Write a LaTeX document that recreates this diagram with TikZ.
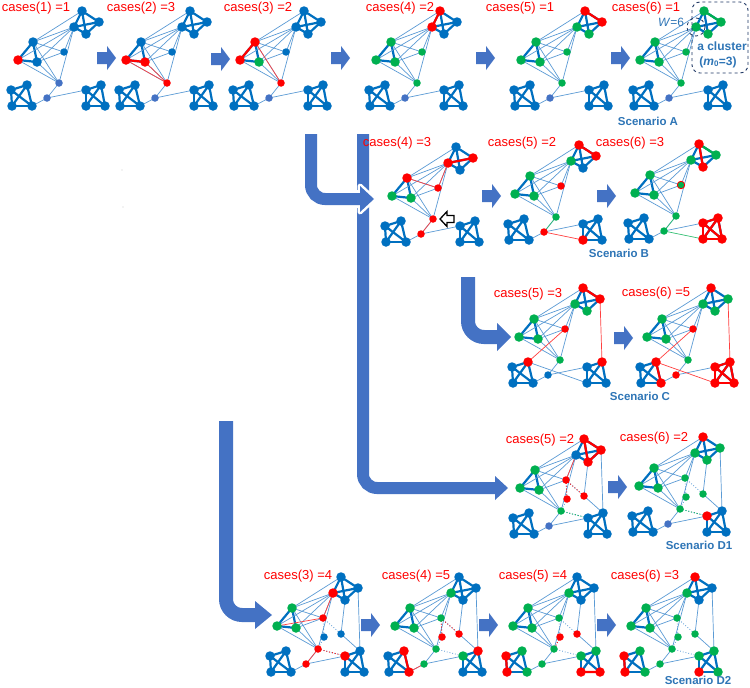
\documentclass[tikz,border=0pt]{standalone}
\usepackage{fontspec}
\setmainfont{Liberation Sans}
\pgfdeclarelayer{back}
\pgfdeclarelayer{bg}
\pgfsetlayers{back,bg,main}
\definecolor{nb}{HTML}{0070C0}
\definecolor{nd}{HTML}{4472C4}
\definecolor{lb}{HTML}{5B9BD5}
\definecolor{nr}{HTML}{FF0000}
\definecolor{ng}{HTML}{00B050}
\definecolor{ab}{HTML}{4472C4}
\definecolor{tb}{HTML}{2E75B6}
\definecolor{dkb}{HTML}{1F3864}
\tikzset{
 cB/.style={fill=nb}, cR/.style={fill=nr}, cG/.style={fill=ng}, cD/.style={fill=nd},
 cn/.style={circle,inner sep=0,minimum size=9.5},
 mn/.style={circle,inner sep=0,minimum size=7.5},
 nA1/.style=cB, nA2/.style=cB, nA3/.style=cB, nA4/.style=cB,
 nB1/.style=cB, nB2/.style=cB, nB3/.style=cB,
 nC1/.style=cB, nC2/.style=cB, nC3/.style=cB, nC4/.style=cB,
 nD1/.style=cB, nD2/.style=cB, nD3/.style=cB, nD4/.style=cB,
 nS/.style=cB, nM1/.style=cD, nM2/.style=cD, nE1/.style=cB, nE2/.style=cB,
 allA/.style={nA1/.style=#1,nA2/.style=#1,nA3/.style=#1,nA4/.style=#1},
 allB/.style={nB1/.style=#1,nB2/.style=#1,nB3/.style=#1},
 allC/.style={nC1/.style=#1,nC2/.style=#1,nC3/.style=#1,nC4/.style=#1},
 allD/.style={nD1/.style=#1,nD2/.style=#1,nD3/.style=#1,nD4/.style=#1},
 tk/.style={nb,line width=2.2},
 tn/.style={lb,line width=0.7},
 rk/.style={nr,line width=2.2},
 rn/.style={nr!75,line width=0.7},
 gk/.style={ng,line width=2.2},
 gn/.style={ng!80,line width=0.7},
 rd/.style={nr,line width=0.9,dotted},
 gd/.style={ng,line width=0.9,dotted},
 bd/.style={lb,line width=0.8,dotted},
 lab/.style={text=nr,font=\fontsize{13}{15}\selectfont,inner sep=0},
 scen/.style={text=tb,font=\bfseries\fontsize{11.5}{13}\selectfont,inner sep=0},
 big/.style={ab,line width=12,rounded corners=14},
}
\newcommand\net[3]{%
\begin{scope}[shift={(#2,#3)}]
\node[cn,nA1] (#1-A1) at (82,11) {};
\node[cn,nA2] (#1-A2) at (99,22) {};
\node[cn,nA3] (#1-A3) at (86,34) {};
\node[cn,nA4] (#1-A4) at (74,27) {};
\node[cn,nB1] (#1-B1) at (33,42) {};
\node[cn,nB2] (#1-B2) at (18,60) {};
\node[cn,nB3] (#1-B3) at (37,62) {};
\node[mn,nS] (#1-S) at (64,52) {};
\node[mn,nM1] (#1-M1) at (59,83) {};
\node[mn,nM2] (#1-M2) at (47,98) {};
\node[cn,nC1] (#1-C1) at (11,90) {};
\node[cn,nC2] (#1-C2) at (27,85) {};
\node[cn,nC3] (#1-C3) at (32,106) {};
\node[cn,nC4] (#1-C4) at (12,106) {};
\node[cn,nD1] (#1-D1) at (86,90) {};
\node[cn,nD2] (#1-D2) at (101,85) {};
\node[cn,nD3] (#1-D3) at (105,106) {};
\node[cn,nD4] (#1-D4) at (86,106) {};
\end{scope}
\begin{pgfonlayer}{bg}
\foreach \u/\v in {A1/A2,A2/A3,A3/A4,A4/A1,A1/A3,A2/A4,B1/B2,B2/B3,B3/B1,C1/C2,C2/C3,C3/C4,C4/C1,C1/C3,C2/C4,D1/D2,D2/D3,D3/D4,D4/D1,D1/D3,D2/D4}
 \draw[tk] (#1-\u.center)--(#1-\v.center);
\foreach \u/\v in {A4/B1,A4/B2,A4/B3,A4/S,A4/M1,A1/B1,B1/S,B1/M1,B3/M1,B2/M1,B3/S,M1/M2,M2/C3,M2/D1}
 \draw[tn] (#1-\u.center)--(#1-\v.center);
\end{pgfonlayer}}
\newcommand\netE[3]{%
\net{#1}{#2}{#3}
\begin{scope}[shift={(#2,#3)}]
\node[mn,nE1] (#1-E1) at (65,71) {};
\node[mn,nE2] (#1-E2) at (82,68) {};
\end{scope}
\begin{pgfonlayer}{bg}
\draw[tn] (#1-A3.center)--(#1-E2.center) (#1-E2.center)--(#1-D2.center) (#1-A2.center)--(#1-D2.center);
\draw[bd] (#1-S.center)--(#1-E1.center) (#1-S.center)--(#1-E2.center) (#1-E1.center)--(#1-M1.center) (#1-M1.center)--(#1-D1.center);
\end{pgfonlayer}}
\newcommand\sarrow[2]{\fill[ab] (#1-9,#2-6) -- (#1+1,#2-6) -- (#1+1,#2-12) -- (#1+10,#2) -- (#1+1,#2+12) -- (#1+1,#2+6) -- (#1-9,#2+6) -- cycle;}
\begin{document}
\begin{tikzpicture}[x=1pt,y=-1pt]
\useasboundingbox (0,0) rectangle (750,688);
\begin{pgfonlayer}{back}\fill[white] (0,0) rectangle (750,688);\end{pgfonlayer}
% ---------------- big arrows
\draw[big] (363,134) -- (363,488) -- (496,488);
\fill[ab] (495,476) -- (508,488) -- (495,500) -- cycle;
\draw[white,line width=18] (345,199) -- (361,199);
\filldraw[white,line width=5,line join=round] (360,186) -- (374,199) -- (360,212) -- cycle;
\draw[big] (311,134) -- (311,199) -- (361,199);
\fill[ab] (360,186) -- (374,199) -- (360,212) -- cycle;
\draw[ab,line width=14,rounded corners=16] (468,277) -- (468,337) -- (498,337);
\fill[ab] (497,323) -- (511,337) -- (497,351) -- cycle;
\draw[ab,line width=14,rounded corners=16] (226,421) -- (226,615) -- (256,615);
\fill[ab] (255,601) -- (272,615) -- (255,629) -- cycle;
% ---------------- small arrows
\sarrow{106}{58}\sarrow{220}{59}\sarrow{340}{58}\sarrow{485}{58}\sarrow{620}{58}
\sarrow{491}{196}\sarrow{606}{196}
\sarrow{623}{338}
\sarrow{617}{487}
\sarrow{370}{625}\sarrow{488}{625}\sarrow{606}{625}
% ---------------- row A
\begin{scope}[nB2/.style=cR]\net{a1}{0}{0}\end{scope}
\begin{scope}[nB2/.style=cR,nB3/.style=cR,nM1/.style=cR]\net{a2}{108}{0}\end{scope}
\begin{pgfonlayer}{bg}\draw[rk] (a2-B2.center)--(a2-B3.center);
\draw[rn] (a2-B2.center)--(a2-M1.center) (a2-B3.center)--(a2-M1.center);\end{pgfonlayer}
\begin{scope}[nB1/.style=cR,nB2/.style=cR,nB3/.style=cG,nM1/.style=cR]\net{a3}{222}{0}\end{scope}
\begin{pgfonlayer}{bg}\draw[rk] (a3-B1.center)--(a3-B2.center);
\draw[rn] (a3-B1.center)--(a3-M1.center);\end{pgfonlayer}
\begin{scope}[nA1/.style=cR,nA4/.style=cR,allB=cG,nS/.style=cG,nM1/.style=cG]\net{a4}{358}{0}\end{scope}
\begin{pgfonlayer}{bg}\draw[rk] (a4-A1.center)--(a4-A4.center);\end{pgfonlayer}
\begin{scope}[allA=cG,nA1/.style=cR,nA2/.style=cR,allB=cG,nS/.style=cG,nM1/.style=cG]\net{a5}{503}{0}\end{scope}
\begin{pgfonlayer}{bg}\draw[rk] (a5-A1.center)--(a5-A2.center);\end{pgfonlayer}
\begin{scope}[allA=cG,allB=cG,nS/.style=cG,nM1/.style=cG]\net{a6}{622}{0}\end{scope}
\begin{pgfonlayer}{bg}\draw[gk] (a6-A1.center)--(a6-A2.center);\end{pgfonlayer}
\node[lab] (la1) at (36,8) {cases(1) =1};
\node[lab] (la2) at (141,8) {cases(2) =3};
\node[lab] (la3) at (258,8) {cases(3) =2};
\node[lab] (la4) at (400,8) {cases(4) =2};
\node[lab] (la5) at (520,8) {cases(5) =1};
\node[lab] (la6) at (646,8) {cases(6) =1};
\node[scen] (sa) at (648,121) {Scenario A};
% cluster annotation
\draw[dkb,dashed,line width=0.9,rounded corners=8] (692,2) rectangle (748,73);
\draw[dkb,dashed,line width=0.8] (a6-A4.center) circle (9);
\node[text=tb,font=\fontsize{12}{14}\selectfont,inner sep=0] (wl) at (671,22) {\textit{W}=6};
\node[text=tb,font=\bfseries\fontsize{12}{14}\selectfont,inner sep=0] (cl1) at (722,46) {a cluster};
\node[text=tb,font=\bfseries\fontsize{12}{14}\selectfont,inner sep=0] (cl2) at (718,62) {(\textit{m}\textsubscript{0}=3)};
% ---------------- row B
\begin{scope}[nA2/.style=cR,nA4/.style=cR,nB1/.style=cR,nB2/.style=cG,nB3/.style=cG,nS/.style=cR,nM1/.style=cR,nM2/.style=cR]\net{b1}{374}{136}\end{scope}
\begin{pgfonlayer}{bg}\draw[rk] (b1-A4.center)--(b1-A2.center);
\draw[rn] (b1-A4.center)--(b1-S.center) (b1-B1.center)--(b1-S.center) (b1-M1.center)--(b1-M2.center);\end{pgfonlayer}
\filldraw[fill=white,draw=black,line width=1.3,line join=miter] (440,219) -- (447,211.5) -- (447,215.5) -- (454,215.5) -- (454,222.5) -- (447,222.5) -- (447,226.5) -- cycle;
\begin{scope}[nA1/.style=cR,nA2/.style=cR,nA4/.style=cG,allB=cG,nS/.style=cR,nM1/.style=cG,nM2/.style=cR,nD4/.style=cR]\net{b2}{497}{134}\end{scope}
\begin{pgfonlayer}{bg}\draw[rk] (b2-A1.center)--(b2-A2.center);
\draw[gn] (b2-M1.center)--(b2-M2.center);\draw[rn] (b2-M2.center)--(b2-D4.center);\end{pgfonlayer}
\begin{scope}[nA1/.style=cR,nA2/.style=cG,nA3/.style=cR,nA4/.style=cG,allB=cG,nS/.style={cG,draw=nr,line width=0.8},nM1/.style=cG,nM2/.style=cG,allD=cR]\net{b3}{617}{133}\end{scope}
\begin{pgfonlayer}{bg}\draw[rk] (b3-A1.center)--(b3-A3.center);\draw[gk] (b3-A1.center)--(b3-A2.center);
\draw[gn] (b3-M1.center)--(b3-M2.center) (b3-M2.center)--(b3-D4.center);
\foreach \u/\v in {D1/D2,D2/D3,D3/D4,D4/D1,D1/D3,D2/D4} \draw[rk] (b3-\u.center)--(b3-\v.center);\end{pgfonlayer}
\node[lab] (lb1) at (397,143) {cases(4) =3};
\node[lab] (lb2) at (522,143) {cases(5) =2};
\node[lab] (lb3) at (630,143) {cases(6) =3};
\node[scen] (sb) at (619,253) {Scenario B};
% ---------------- row C
\begin{scope}[nA1/.style=cR,nA2/.style=cR,nA3/.style=cG,nA4/.style=cG,allB=cG,nS/.style=cR,nM1/.style=cG,nM2/.style=cB,nC2/.style=cR,nD2/.style=cR]\net{c1}{501}{277}\end{scope}
\begin{pgfonlayer}{bg}\draw[rk] (c1-A1.center)--(c1-A2.center);
\draw[rn] (c1-S.center)--(c1-C2.center) (c1-A2.center)--(c1-D2.center);\draw[tn] (c1-C2.center)--(c1-D4.center);\end{pgfonlayer}
\begin{scope}[allA=cG,nA1/.style=cR,allB=cG,nS/.style=cR,nM1/.style=cG,nM2/.style=cR,nC2/.style=cR,nC3/.style=cR,allD=cR]\net{c2}{629}{277}\end{scope}
\begin{pgfonlayer}{bg}
\draw[rn] (c2-S.center)--(c2-C2.center) (c2-A2.center)--(c2-D2.center) (c2-C2.center)--(c2-D4.center);
\draw[rk] (c2-C2.center)--(c2-C3.center);
\foreach \u/\v in {D1/D2,D2/D3,D3/D4,D4/D1,D1/D3,D2/D4} \draw[rk] (c2-\u.center)--(c2-\v.center);\end{pgfonlayer}
\node[lab] (lc1) at (528,294) {cases(5) =3};
\node[lab] (lc2) at (656,293) {cases(6) =5};
\node[scen] (sc) at (640,396) {Scenario C};
% ---------------- row D1
\begin{scope}[nA1/.style=cR,nA2/.style=cR,nA3/.style=cR,allB=cG,nS/.style=cR,nE1/.style=cR,nE2/.style=cR,nM1/.style=cG]\netE{d1}{502}{428}\end{scope}
\begin{pgfonlayer}{bg}
\foreach \u/\v in {A1/A2,A2/A3,A1/A3} \draw[rk] (d1-\u.center)--(d1-\v.center);
\draw[rn] (d1-A4.center)--(d1-S.center);
\draw[rd] (d1-S.center)--(d1-E1.center) (d1-S.center)--(d1-E2.center);
\draw[gd] (d1-M1.center)--(d1-D1.center);\end{pgfonlayer}
\begin{scope}[allA=cG,nA1/.style=cR,allB=cG,nS/.style=cG,nE1/.style=cG,nE2/.style=cG,nM1/.style=cG,nD1/.style=cR]\netE{d2}{621}{426}\end{scope}
\begin{pgfonlayer}{bg}\draw[gd] (d2-M1.center)--(d2-D1.center);\end{pgfonlayer}
\node[lab] (ld1) at (540,440) {cases(5) =2};
\node[lab] (ld2) at (654,438) {cases(6) =2};
\node[scen] (sd1) at (699,545) {Scenario D1};
% ---------------- row D2
\begin{scope}[nA4/.style=cR,allB=cG,nS/.style=cR,nM1/.style=cR,nM2/.style=cR,nD1/.style=cR]\netE{e1}{259}{566}\end{scope}
\begin{pgfonlayer}{bg}\draw[rn] (e1-B2.center)--(e1-S.center) (e1-A4.center)--(e1-S.center) (e1-M1.center)--(e1-M2.center);
\draw[rd] (e1-M1.center)--(e1-D1.center);\end{pgfonlayer}
\begin{scope}[nA4/.style=cG,allB=cG,nS/.style=cG,nM1/.style=cG,nM2/.style=cG,nE1/.style=cR,nE2/.style=cR,nC2/.style=cR,nC3/.style=cR,nD1/.style=cG,nD2/.style=cR]\netE{e2}{377}{566}\end{scope}
\begin{pgfonlayer}{bg}\draw[rd] (e2-S.center)--(e2-E1.center) (e2-S.center)--(e2-E2.center);
\draw[rn] (e2-M2.center)--(e2-C3.center);\draw[rk] (e2-C2.center)--(e2-C3.center);\end{pgfonlayer}
\begin{scope}[nA4/.style=cG,allB=cG,nS/.style=cG,nM1/.style=cG,nM2/.style=cG,nE1/.style=cR,nE2/.style=cR,allC=cG,nC4/.style=cR,nC1/.style=cR,allD=cG,nD3/.style=cR,nD4/.style=cR]\netE{e3}{495}{566}\end{scope}
\begin{pgfonlayer}{bg}\draw[rd] (e3-E1.center)--(e3-M1.center);\draw[rk] (e3-C1.center)--(e3-C4.center) (e3-D3.center)--(e3-D4.center);\end{pgfonlayer}
\begin{scope}[nA1/.style=cR,nA4/.style=cG,allB=cG,nS/.style=cG,nM1/.style=cG,nM2/.style=cG,nE1/.style=cG,nE2/.style=cG,allC=cG,nC1/.style=cR,nC4/.style=cR,allD=cG,nD4/.style=cR]\netE{e4}{613}{566}\end{scope}
\begin{pgfonlayer}{bg}\draw[rk] (e4-C1.center)--(e4-C4.center);\end{pgfonlayer}
\node[lab] (le1) at (298,576) {cases(3) =4};
\node[lab] (le2) at (416,576) {cases(4) =5};
\node[lab] (le3) at (533,576) {cases(5) =4};
\node[lab] (le4) at (645,576) {cases(6) =3};
\node[scen] (sd2) at (698,680) {Scenario D2};
\fill[gray!40] (122,170) circle (0.7) (123,207) circle (0.7);
\end{tikzpicture}
\end{document}
